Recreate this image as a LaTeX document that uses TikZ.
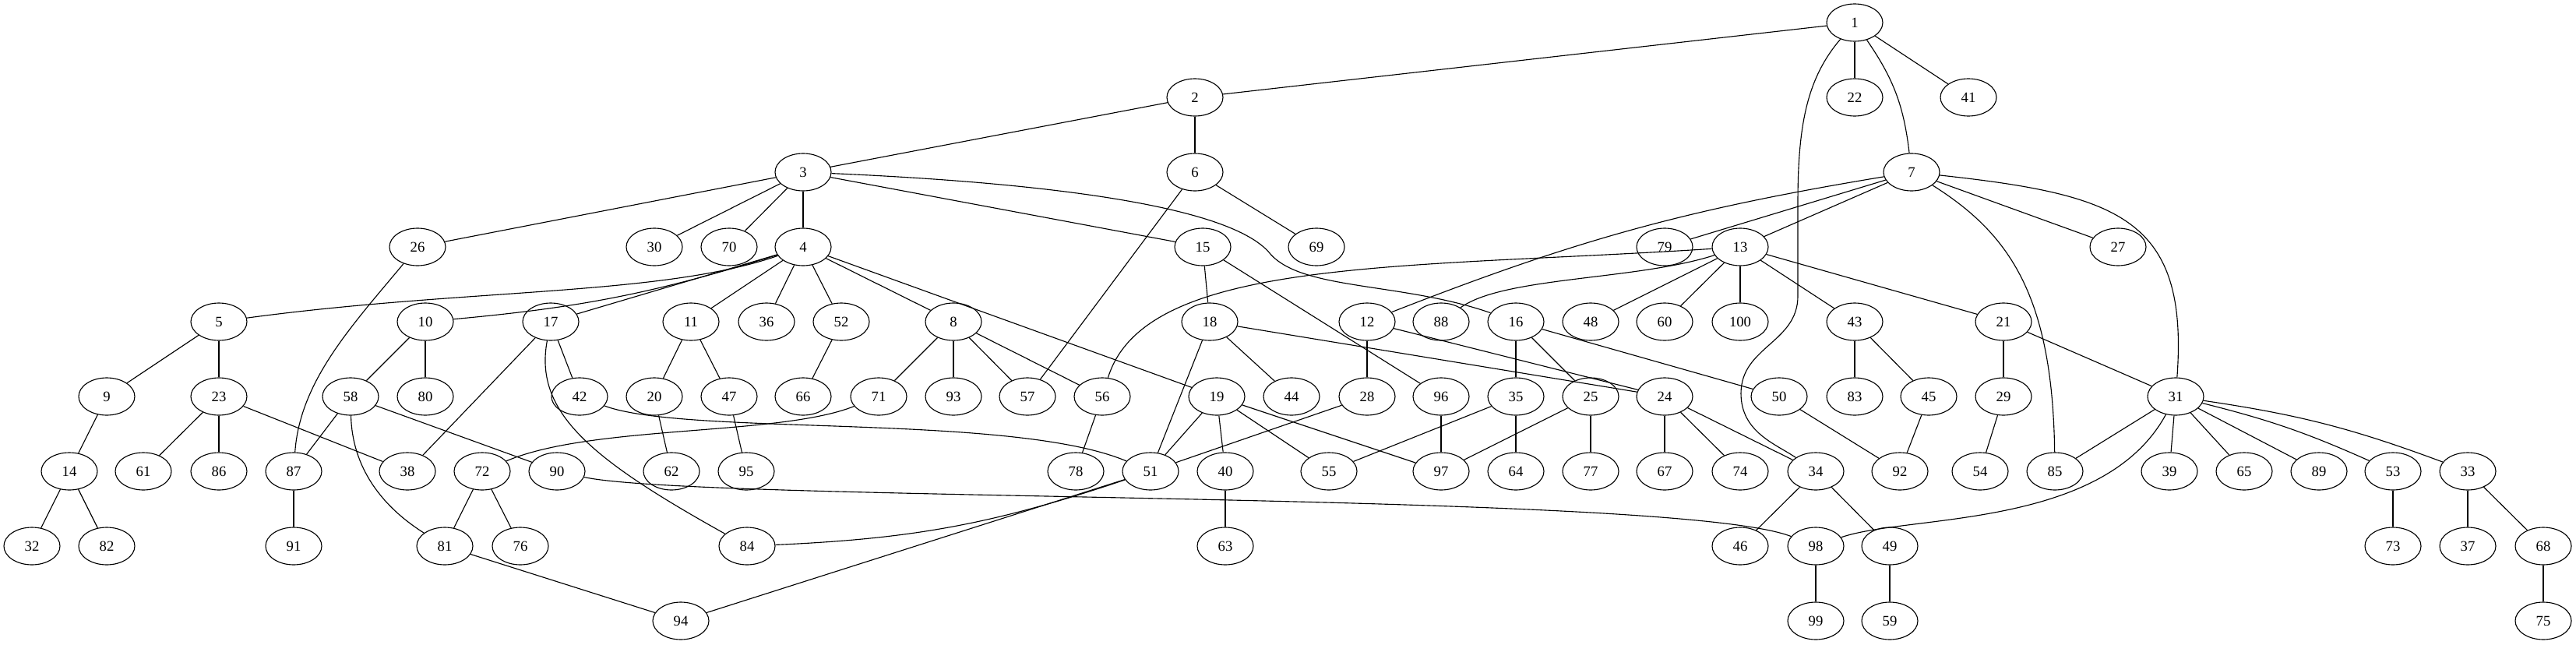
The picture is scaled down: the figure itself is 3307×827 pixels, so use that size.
\documentclass[tikz,border=0pt]{standalone}
\usepackage{fontspec}
\setmainfont{Liberation Serif}
\usetikzlibrary{shapes.geometric}

\begin{document}
\begin{tikzpicture}[x=0.25mm, y=-0.25mm, line width=0.8pt,
    vtx/.style={draw, ellipse, minimum width=18mm, minimum height=12mm, inner sep=0pt, font=\fontsize{13.3}{16}\selectfont}]
    \useasboundingbox (0, 0) rectangle (3307, 827);
    \node[vtx] (n1) at (2381, 29) {1};
    \node[vtx] (n2) at (1534, 125) {2};
    \node[vtx] (n22) at (2381, 125) {22};
    \node[vtx] (n41) at (2527, 125) {41};
    \node[vtx] (n3) at (1031, 221) {3};
    \node[vtx] (n6) at (1534, 221) {6};
    \node[vtx] (n7) at (2454, 221) {7};
    \node[vtx] (n26) at (536, 317) {26};
    \node[vtx] (n30) at (840, 317) {30};
    \node[vtx] (n70) at (936, 317) {70};
    \node[vtx] (n4) at (1031, 317) {4};
    \node[vtx] (n15) at (1544, 317) {15};
    \node[vtx] (n69) at (1690, 317) {69};
    \node[vtx] (n79) at (2137, 317) {79};
    \node[vtx] (n13) at (2234, 317) {13};
    \node[vtx] (n27) at (2719, 317) {27};
    \node[vtx] (n5) at (281, 413) {5};
    \node[vtx] (n10) at (546, 413) {10};
    \node[vtx] (n17) at (707, 413) {17};
    \node[vtx] (n11) at (887, 413) {11};
    \node[vtx] (n36) at (984, 413) {36};
    \node[vtx] (n52) at (1080, 413) {52};
    \node[vtx] (n8) at (1224, 413) {8};
    \node[vtx] (n18) at (1553, 413) {18};
    \node[vtx] (n12) at (1755, 413) {12};
    \node[vtx] (n88) at (1850, 413) {88};
    \node[vtx] (n16) at (1946, 413) {16};
    \node[vtx] (n48) at (2042, 413) {48};
    \node[vtx] (n60) at (2137, 413) {60};
    \node[vtx] (n100) at (2234, 413) {100};
    \node[vtx] (n43) at (2381, 413) {43};
    \node[vtx] (n21) at (2572, 413) {21};
    \node[vtx] (n9) at (137, 509) {9};
    \node[vtx] (n23) at (281, 509) {23};
    \node[vtx] (n58) at (450, 509) {58};
    \node[vtx] (n80) at (546, 509) {80};
    \node[vtx] (n42) at (744, 509) {42};
    \node[vtx] (n20) at (840, 509) {20};
    \node[vtx] (n47) at (936, 509) {47};
    \node[vtx] (n66) at (1031, 509) {66};
    \node[vtx] (n71) at (1128, 509) {71};
    \node[vtx] (n93) at (1224, 509) {93};
    \node[vtx] (n57) at (1319, 509) {57};
    \node[vtx] (n56) at (1415, 509) {56};
    \node[vtx] (n19) at (1562, 509) {19};
    \node[vtx] (n44) at (1658, 509) {44};
    \node[vtx] (n28) at (1755, 509) {28};
    \node[vtx] (n96) at (1850, 509) {96};
    \node[vtx] (n35) at (1946, 509) {35};
    \node[vtx] (n25) at (2042, 509) {25};
    \node[vtx] (n24) at (2137, 509) {24};
    \node[vtx] (n50) at (2284, 509) {50};
    \node[vtx] (n83) at (2381, 509) {83};
    \node[vtx] (n45) at (2476, 509) {45};
    \node[vtx] (n29) at (2572, 509) {29};
    \node[vtx] (n31) at (2793, 509) {31};
    \node[vtx] (n14) at (89, 605) {14};
    \node[vtx] (n61) at (184, 605) {61};
    \node[vtx] (n86) at (281, 605) {86};
    \node[vtx] (n87) at (377, 605) {87};
    \node[vtx] (n38) at (523, 605) {38};
    \node[vtx] (n72) at (619, 605) {72};
    \node[vtx] (n90) at (715, 605) {90};
    \node[vtx] (n62) at (862, 605) {62};
    \node[vtx] (n95) at (958, 605) {95};
    \node[vtx] (n78) at (1381, 605) {78};
    \node[vtx] (n51) at (1477, 605) {51};
    \node[vtx] (n40) at (1573, 605) {40};
    \node[vtx] (n55) at (1706, 605) {55};
    \node[vtx] (n97) at (1850, 605) {97};
    \node[vtx] (n64) at (1946, 605) {64};
    \node[vtx] (n77) at (2042, 605) {77};
    \node[vtx] (n67) at (2137, 605) {67};
    \node[vtx] (n74) at (2234, 605) {74};
    \node[vtx] (n34) at (2331, 605) {34};
    \node[vtx] (n92) at (2439, 605) {92};
    \node[vtx] (n54) at (2542, 605) {54};
    \node[vtx] (n85) at (2638, 605) {85};
    \node[vtx] (n39) at (2785, 605) {39};
    \node[vtx] (n65) at (2881, 605) {65};
    \node[vtx] (n89) at (2977, 605) {89};
    \node[vtx] (n53) at (3072, 605) {53};
    \node[vtx] (n33) at (3168, 605) {33};
    \node[vtx] (n32) at (41, 701) {32};
    \node[vtx] (n82) at (137, 701) {82};
    \node[vtx] (n91) at (377, 701) {91};
    \node[vtx] (n81) at (571, 701) {81};
    \node[vtx] (n76) at (668, 701) {76};
    \node[vtx] (n84) at (959, 701) {84};
    \node[vtx] (n63) at (1573, 701) {63};
    \node[vtx] (n46) at (2234, 701) {46};
    \node[vtx] (n98) at (2331, 701) {98};
    \node[vtx] (n49) at (2426, 701) {49};
    \node[vtx] (n73) at (3072, 701) {73};
    \node[vtx] (n37) at (3168, 701) {37};
    \node[vtx] (n68) at (3265, 701) {68};
    \node[vtx] (n94) at (874, 797) {94};
    \node[vtx] (n99) at (2331, 797) {99};
    \node[vtx] (n59) at (2426, 797) {59};
    \node[vtx] (n75) at (3265, 797) {75};
    \draw (n1) -- (n2);
    \draw (n1) -- (n22);
    \draw (n1) -- (n41);
    \draw (n1) to[bend left=14] (n7);
    \draw (n1) .. controls (2320, 100) and (2308, 160) .. (2308, 260) -- (2308, 380) .. controls (2308, 440) and (2235, 445) .. (2235, 505) .. controls (2235, 555) and (2280, 570) .. (n34);
    \draw (n2) -- (n3);
    \draw (n2) -- (n6);
    \draw (n3) -- (n26);
    \draw (n3) -- (n30);
    \draw (n3) -- (n70);
    \draw (n3) -- (n4);
    \draw (n3) -- (n15);
    \draw (n3) .. controls (1350, 235) and (1580, 265) .. (1630, 325) .. controls (1670, 373) and (1800, 362) .. (n16);
    \draw (n6) -- (n69);
    \draw (n6) -- (n57);
    \draw (n7) -- (n79);
    \draw (n7) -- (n13);
    \draw (n7) to[bend right=6] (n12);
    \draw (n7) -- (n27);
    \draw (n7) .. controls (2580, 300) and (2635, 380) .. (n85);
    \draw (n7) .. controls (2720, 250) and (2810, 280) .. (n31);
    \draw (n4) .. controls (850, 380) and (600, 370) .. (n5);
    \draw (n4) to[bend left=6] (n10);
    \draw (n4) -- (n17);
    \draw (n4) -- (n11);
    \draw (n4) -- (n36);
    \draw (n4) -- (n52);
    \draw (n4) -- (n8);
    \draw (n4) -- (n19);
    \draw (n26) .. controls (450, 420) and (385, 490) .. (n87);
    \draw (n15) -- (n18);
    \draw (n15) -- (n96);
    \draw (n13) .. controls (2100, 360) and (1930, 355) .. (n88);
    \draw (n13) .. controls (1800, 345) and (1470, 330) .. (n56);
    \draw (n13) -- (n48);
    \draw (n13) -- (n60);
    \draw (n13) -- (n100);
    \draw (n13) -- (n43);
    \draw (n13) -- (n21);
    \draw (n16) -- (n35);
    \draw (n16) -- (n25);
    \draw (n16) -- (n50);
    \draw (n12) -- (n28);
    \draw (n12) -- (n24);
    \draw (n18) -- (n44);
    \draw (n18) -- (n51);
    \draw (n18) -- (n24);
    \draw (n5) -- (n9);
    \draw (n5) -- (n23);
    \draw (n10) -- (n58);
    \draw (n10) -- (n80);
    \draw (n17) -- (n42);
    \draw (n17) -- (n38);
    \draw (n17) .. controls (685, 530) and (760, 590) .. (n84);
    \draw (n11) -- (n20);
    \draw (n11) -- (n47);
    \draw (n52) -- (n66);
    \draw (n8) -- (n71);
    \draw (n8) -- (n93);
    \draw (n8) -- (n57);
    \draw (n8) -- (n56);
    \draw (n19) -- (n51);
    \draw (n19) -- (n40);
    \draw (n19) -- (n55);
    \draw (n19) -- (n97);
    \draw (n28) -- (n51);
    \draw (n42) .. controls (880, 560) and (1300, 530) .. (n51);
    \draw (n71) .. controls (1000, 560) and (760, 545) .. (n72);
    \draw (n58) -- (n87);
    \draw (n58) -- (n90);
    \draw (n58) .. controls (452, 600) and (490, 650) .. (n81);
    \draw (n23) -- (n61);
    \draw (n23) -- (n86);
    \draw (n23) -- (n38);
    \draw (n9) -- (n14);
    \draw (n14) -- (n32);
    \draw (n14) -- (n82);
    \draw (n87) -- (n91);
    \draw (n72) -- (n81);
    \draw (n72) -- (n76);
    \draw (n81) -- (n94);
    \draw (n90) .. controls (900, 645) and (2150, 630) .. (n98);
    \draw (n51) to[bend left=8] (n84);
    \draw (n51) -- (n94);
    \draw (n20) -- (n62);
    \draw (n47) -- (n95);
    \draw (n56) -- (n78);
    \draw (n40) -- (n63);
    \draw (n96) -- (n97);
    \draw (n35) -- (n55);
    \draw (n35) -- (n64);
    \draw (n25) -- (n97);
    \draw (n25) -- (n77);
    \draw (n24) -- (n67);
    \draw (n24) -- (n74);
    \draw (n24) -- (n34);
    \draw (n50) -- (n92);
    \draw (n43) -- (n83);
    \draw (n43) -- (n45);
    \draw (n45) -- (n92);
    \draw (n21) -- (n29);
    \draw (n21) -- (n31);
    \draw (n29) -- (n54);
    \draw (n34) -- (n46);
    \draw (n34) -- (n49);
    \draw (n98) -- (n99);
    \draw (n49) -- (n59);
    \draw (n31) -- (n85);
    \draw (n31) -- (n39);
    \draw (n31) -- (n65);
    \draw (n31) -- (n89);
    \draw (n31) to[bend left=5] (n53);
    \draw (n31) to[bend left=6] (n33);
    \draw (n31) .. controls (2700, 680) and (2450, 660) .. (n98);
    \draw (n53) -- (n73);
    \draw (n33) -- (n37);
    \draw (n33) -- (n68);
    \draw (n68) -- (n75);
  \end{tikzpicture}
\end{document}
